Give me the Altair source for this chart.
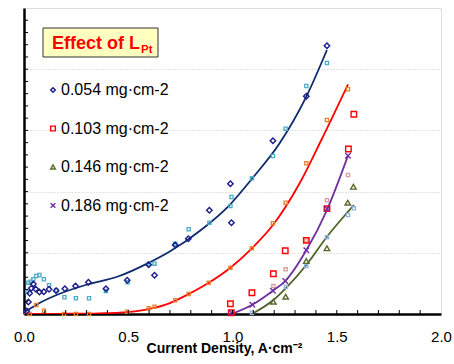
import altair as alt
import pandas as pd

# ---- data (x: current density A/cm2, y: arbitrary units 0..5) ----
# 0.054 mg/cm2 : navy open diamonds
d054_x = [0.013, 0.021, 0.027, 0.035, 0.045, 0.056, 0.074, 0.095, 0.120, 0.154, 0.196, 0.247,
          0.309, 0.393, 0.495, 0.598, 0.626, 0.725, 0.788, 0.889, 0.990, 0.995, 1.194, 1.354, 1.453]
d054_y = [0.049, 0.196, 0.338, 0.420, 0.490, 0.408, 0.359, 0.364, 0.404, 0.381, 0.413, 0.458,
          0.518, 0.413, 0.551, 0.806, 0.632, 1.127, 1.230, 1.694, 2.129, 1.492, 2.832, 3.557, 4.384]
# companion small cyan squares
c054_x = [0.016, 0.021, 0.032, 0.045, 0.059, 0.074, 0.095, 0.120, 0.155, 0.194, 0.249, 0.312,
          0.393, 0.497, 0.598, 0.626, 0.725, 0.790, 0.889, 0.990, 0.995, 1.093, 1.194, 1.255,
          1.354, 1.453]
c054_y = [0.364, 0.511, 0.528, 0.567, 0.621, 0.637, 0.567, 0.469, 0.392, 0.273, 0.257, 0.257,
          0.376, 0.518, 0.822, 0.822, 1.149, 1.384, 1.492, 1.765, 1.912, 2.217, 2.582, 3.028,
          3.725, 4.101]
l054_x = [0.0, 0.040, 0.072, 0.168, 0.296, 0.457, 0.593, 0.697, 0.849, 0.986, 1.095, 1.226, 1.354, 1.453]
l054_y = [0.03, 0.109, 0.175, 0.327, 0.474, 0.621, 0.828, 1.018, 1.373, 1.781, 2.217, 2.789, 3.551, 4.314]

# 0.103 mg/cm2 : red open squares
d103_x = [0.990, 0.994, 1.093, 1.196, 1.253, 1.354, 1.453, 1.556, 1.582]
d103_y = [0.168, 0.021, 0.348, 0.658, 1.034, 1.204, 1.721, 2.696, 3.263]
# companion small orange squares
o_x = [0.027, 0.059, 0.096, 0.192, 0.249, 0.312, 0.495, 0.598, 0.626, 0.725, 0.790, 0.886,
       0.990, 1.093, 1.194, 1.255, 1.354, 1.453, 1.554]
o_y = [0.0, 0.147, 0.054, 0.0, 0.0, 0.0, 0.038, 0.093, 0.119, 0.224, 0.327, 0.511,
       0.757, 1.074, 1.482, 1.819, 2.462, 3.170, 3.672]
# companion small pink squares
p_x = [1.196, 1.255, 1.354, 1.453, 1.554]
p_y = [0.458, 0.730, 1.204, 1.858, 2.271]
l103_x = [0.0, 0.168, 0.361, 0.457, 0.593, 0.697, 0.790, 0.886, 0.990, 1.093, 1.194, 1.322, 1.426, 1.554]
l103_y = [0.0, 0.003, 0.011, 0.021, 0.077, 0.175, 0.327, 0.511, 0.757, 1.074, 1.454, 2.136, 2.843, 3.753]

# 0.146 mg/cm2 : olive open triangles
d146_x = [1.196, 1.255, 1.354, 1.453, 1.553, 1.580]
d146_y = [0.201, 0.283, 0.866, 1.074, 1.819, 2.080]
# companion small light-blue squares
b_x = [1.093, 1.256, 1.354, 1.453, 1.554, 1.582]
b_y = [0.021, 0.446, 0.784, 1.253, 1.618, 1.727]
l146_x = [1.093, 1.196, 1.255, 1.354, 1.453, 1.554, 1.582]
l146_y = [0.0, 0.229, 0.420, 0.801, 1.263, 1.672, 1.781]

# 0.186 mg/cm2 : purple crosses
d186_x = [0.994, 1.095, 1.194, 1.253, 1.354, 1.453, 1.554]
d186_y = [0.021, 0.152, 0.381, 0.539, 1.041, 1.721, 2.587]
l186_x = [0.994, 1.095, 1.194, 1.253, 1.354, 1.453, 1.554]
l186_y = [0.0, 0.152, 0.381, 0.539, 1.041, 1.699, 2.587]

series = ["0.054 mg·cm-2", "0.103 mg·cm-2", "0.146 mg·cm-2", "0.186 mg·cm-2"]
colors = ["#1c1c8a", "#ff0000", "#5a6a2c", "#7030a0"]
line_colors = ["#0d2a6b", "#ff0000", "#4f6228", "#7030a0"]
shapes = ["diamond", "square", "triangle-up", "M-1,-1L1,1M-1,1L1,-1"]

x_major = [0.0, 0.5, 1.0, 1.5, 2.0]
x_minor = [0.1, 0.2, 0.3, 0.4, 0.5, 0.6, 0.7, 0.8, 0.9, 1.0, 1.1, 1.2, 1.3, 1.4, 1.5, 1.6, 1.7, 1.8, 1.9]
y_minor = [0.2, 0.4, 0.6, 0.8, 1.0, 1.2, 1.4, 1.6, 1.8, 2.0, 2.2, 2.4, 2.6, 2.8, 3.0, 3.2, 3.4, 3.6,
           3.8, 4.0, 4.2, 4.4, 4.6, 4.8]

FONT = "Liberation Sans, Arial, sans-serif"
W, H = 417, 306

xs = alt.Scale(domain=[0, 2], nice=False, zero=False)
ys = alt.Scale(domain=[0, 5], nice=False, zero=False)
x_axis = alt.Axis(values=x_major, format=".1f", ticks=False, grid=False, labelFontSize=15,
                  labelFont=FONT, labelColor="#000", labelPadding=15, labelFlush=False,
                  labelOverlap=False, domainColor="#000",
                  domainWidth=2.5, title="Current Density, A·cm⁻²", titleFont=FONT,
                  titleFontSize=14, titleFontWeight="bold", titleColor="#000",
                  titleX=200, titleY=38.5, titleBaseline="alphabetic")
y_axis = alt.Axis(labels=False, ticks=False, title=None, values=[1, 2, 3, 4], grid=True,
                  gridColor="#c8c8c8", gridDash=[1, 2], gridWidth=1, domainColor="#000",
                  domainWidth=2.5)


def X(f="x"):
    return alt.X(f"{f}:Q", scale=xs, axis=x_axis)


def Y(f="y"):
    return alt.Y(f"{f}:Q", scale=ys, axis=y_axis)


def df(xv, yv):
    return pd.DataFrame({"x": xv, "y": yv})


layers = []

# fitted curves
for lx, ly, col in [(l054_x, l054_y, line_colors[0]), (l103_x, l103_y, line_colors[1]),
                    (l146_x, l146_y, line_colors[2]), (l186_x, l186_y, line_colors[3])]:
    layers.append(alt.Chart(df(lx, ly)).mark_line(interpolate="monotone", color=col,
                                                   strokeWidth=1.8, clip=True)
                  .encode(x=X(), y=Y()))

# companion small squares
for cx, cy, col in [(c054_x, c054_y, "#4bacc6"), (o_x, o_y, "#e8822e"),
                    (p_x, p_y, "#dc9a9a"), (b_x, b_y, "#8eb4e3")]:
    layers.append(alt.Chart(df(cx, cy)).mark_point(shape="square", size=10, filled=False,
                                                   strokeWidth=1.3, color=col, opacity=1)
                  .encode(x=X(), y=Y()))

# main markers with legend
main = pd.concat([
    pd.DataFrame({"x": d054_x, "y": d054_y, "series": series[0]}),
    pd.DataFrame({"x": d103_x, "y": d103_y, "series": series[1]}),
    pd.DataFrame({"x": d146_x, "y": d146_y, "series": series[2]}),
    pd.DataFrame({"x": d186_x, "y": d186_y, "series": series[3]}),
])
leg = alt.Legend(title=None, orient="none", legendX=19, legendY=74, labelFontSize=16,
                 labelFont=FONT, labelColor="#000", symbolSize=22, symbolStrokeWidth=1.4,
                 rowPadding=22.5, labelOffset=0, symbolOffset=2, padding=0)
layers.append(alt.Chart(main).mark_point(filled=False, strokeWidth=1.4, opacity=1, size=30)
              .encode(x=X(), y=Y(),
                      color=alt.Color("series:N", scale=alt.Scale(domain=series, range=colors), legend=leg),
                      shape=alt.Shape("series:N", scale=alt.Scale(domain=series, range=shapes), legend=leg)))

# inward ticks
layers.append(alt.Chart(pd.DataFrame({"t": x_minor})).mark_rule(color="#000", strokeWidth=1)
              .encode(x=alt.X("t:Q", scale=xs, axis=x_axis), y=alt.value(H), y2=alt.value(H - 4)))
layers.append(alt.Chart(pd.DataFrame({"t": y_minor})).mark_rule(color="#000", strokeWidth=1)
              .encode(y=alt.Y("t:Q", scale=ys, axis=y_axis), x=alt.value(0), x2=alt.value(4)))

# title box
one = pd.DataFrame({"a": [0]})
layers.append(alt.Chart(one).mark_rect(fill="#ffffc0", stroke="#333", strokeWidth=1)
              .encode(x=alt.value(19), x2=alt.value(134), y=alt.value(20), y2=alt.value(49)))
layers.append(alt.Chart(one).mark_text(text="Effect of L", font=FONT, fontSize=18, fontWeight="bold",
                                       color="#ff0000", align="left", baseline="alphabetic")
              .encode(x=alt.value(28), y=alt.value(41)))
layers.append(alt.Chart(one).mark_text(text="Pt", font=FONT, fontSize=11.5, fontWeight="bold",
                                       color="#ff0000", align="left", baseline="alphabetic")
              .encode(x=alt.value(117), y=alt.value(44.5)))

chart = (alt.layer(*layers)
         .properties(width=W, height=H, autosize=alt.AutoSizeParams(type="none"),
                     padding={"left": 24, "top": 8, "right": 13, "bottom": 50})
         .configure_view(stroke="#444", strokeWidth=2)
         .configure(background="white"))

chart.save("out.html", embed_options={"renderer": "svg", "actions": False})
